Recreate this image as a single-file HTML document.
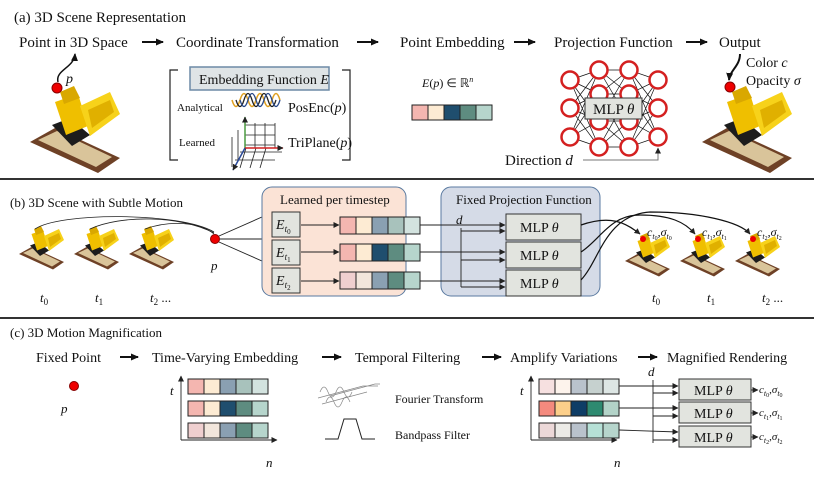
<!DOCTYPE html>
<html><head><meta charset="utf-8"><style>html,body{margin:0;padding:0;background:#fff}svg{display:block}text{font-family:"Liberation Serif",serif;fill:#111}</style></head><body>
<svg width="814" height="477" viewBox="0 0 814 477" xmlns="http://www.w3.org/2000/svg">
<defs>
<marker id="ah" markerWidth="8" markerHeight="8" refX="7" refY="4" orient="auto" markerUnits="userSpaceOnUse"><path d="M0,0.5 L8,4 L0,7.5 z" fill="#111"/></marker>
<marker id="as" markerWidth="6" markerHeight="6" refX="5.5" refY="3" orient="auto" markerUnits="userSpaceOnUse"><path d="M0,0 L6,3 L0,6 z" fill="#222"/></marker>
<g id="dz">
<polygon points="0,62 25,48 90,78 68,93" fill="#6e4126"/>
<polygon points="8,60 27,51 82,77 66,87" fill="#d9c49a"/>
<polygon points="22,45 40,38 60,55 42,66" fill="#1c1c1c"/>
<polygon points="25,22 48,14 58,46 36,55" fill="#efbf00"/>
<polygon points="30,12 44,6 50,18 34,24" fill="#d9a800"/>
<polygon points="50,26 80,12 90,34 60,56" fill="#f7d21a"/>
<polygon points="58,30 80,20 84,32 62,48" fill="#e0b000"/>
</g>
</defs>

<!-- (a) -->
<text x="14" y="22" font-size="15">(a) 3D Scene Representation</text>
<g font-size="15">
<text x="19" y="47">Point in 3D Space</text>
<text x="176" y="47">Coordinate Transformation</text>
<text x="400" y="47">Point Embedding</text>
<text x="554" y="47">Projection Function</text>
<text x="719" y="47">Output</text>
</g>
<g stroke="#111" stroke-width="2" marker-end="url(#ah)">
<line x1="142" y1="42" x2="163" y2="42"/><line x1="357" y1="42" x2="378" y2="42"/><line x1="514" y1="42" x2="535" y2="42"/><line x1="686" y1="42" x2="707" y2="42"/>
</g>
<use href="#dz" transform="translate(30,80)"/>
<circle cx="57" cy="88" r="5" fill="#e00" stroke="#800"/>
<path d="M58,82 C55,70 74,68 75,54" fill="none" stroke="#111" stroke-width="1.5" marker-end="url(#ah)"/>
<text x="66" y="83" font-size="14" font-style="italic">p</text>

<rect x="190" y="67" width="139" height="23" fill="#dfe4e6" stroke="#6d8aa6" stroke-width="1.5"/>
<text x="199" y="84" font-size="14">Embedding Function <tspan font-style="italic">E</tspan></text>
<path d="M178,70 H170 V160 H178" fill="none" stroke="#222" stroke-width="1.2"/>
<path d="M342,70 H350 V160 H342" fill="none" stroke="#222" stroke-width="1.2"/>
<text x="177" y="111" font-size="11">Analytical</text>
<text x="179" y="146" font-size="11">Learned</text>
<path d="M232,100 q4,13 8,0 t8,0 t8,0 t8,0 t8,0 t8,0" fill="none" stroke="#e0a020" stroke-width="1.5"/>
<path d="M236,100 q4,13 8,0 t8,0 t8,0 t8,0 t8,0" fill="none" stroke="#222" stroke-width="1.3"/>
<path d="M240,100 q4,13 8,0 t8,0 t8,0 t8,0 t8,0" fill="none" stroke="#2a4a8a" stroke-width="1.3"/>
<text x="288" y="112" font-size="14">PosEnc(<tspan font-style="italic">p</tspan>)</text>
<g stroke="#222" stroke-width="0.8" fill="none">
<path d="M245,125 H275 M245,135 H275 M245,145 H275 M255,123 V148 M265,123 V148 M275,123 V148"/>
<path d="M238,130 V160 M232,137 V167 M235,160 L275,160 M240,152 L282,152 M246,148 L240,168 M256,148 L250,168 M266,148 L260,168"/>
</g>
<line x1="245" y1="148" x2="245" y2="117" stroke="#4a9a40" stroke-width="1.5" marker-end="url(#as)"/>
<line x1="245" y1="148" x2="283" y2="148" stroke="#d02020" stroke-width="1.5" marker-end="url(#as)"/>
<line x1="245" y1="148" x2="233" y2="170" stroke="#2a4a9a" stroke-width="1.5" marker-end="url(#as)"/>
<text x="288" y="147" font-size="14">TriPlane(<tspan font-style="italic">p</tspan>)</text>

<text x="422" y="87" font-size="12"><tspan font-style="italic">E</tspan>(<tspan font-style="italic">p</tspan>) ∈ ℝ<tspan font-size="8" dy="-5" font-style="italic">n</tspan></text>
<g stroke="#222" stroke-width="1">
<rect x="412" y="105" width="16" height="15" fill="#f4b6b0"/><rect x="428" y="105" width="16" height="15" fill="#fdebd3"/><rect x="444" y="105" width="16" height="15" fill="#1f4e6e"/><rect x="460" y="105" width="16" height="15" fill="#5e8c80"/><rect x="476" y="105" width="16" height="15" fill="#b6d5cc"/>
</g>
<!-- MLP -->
<g stroke="#111" stroke-width="0.7">
<path d="M570,80 L599,70 M570,80 L599,94 M570,80 L599,121 M570,80 L599,147 M570,108 L599,70 M570,108 L599,94 M570,108 L599,121 M570,108 L599,147 M570,137 L599,70 M570,137 L599,94 M570,137 L599,121 M570,137 L599,147"/>
<path d="M599,70 L629,70 M599,70 L629,94 M599,70 L629,121 M599,94 L629,70 M599,94 L629,94 M599,94 L629,147 M599,121 L629,70 M599,121 L629,121 M599,121 L629,147 M599,147 L629,94 M599,147 L629,147 M599,147 L629,121"/>
<path d="M658,80 L629,70 M658,80 L629,94 M658,80 L629,121 M658,80 L629,147 M658,108 L629,70 M658,108 L629,94 M658,108 L629,121 M658,108 L629,147 M658,137 L629,70 M658,137 L629,94 M658,137 L629,121 M658,137 L629,147"/>
</g>
<g fill="#fff" stroke="#d42020" stroke-width="2.5">
<circle cx="570" cy="80" r="8.5"/><circle cx="570" cy="108" r="8.5"/><circle cx="570" cy="137" r="8.5"/>
<circle cx="599" cy="70" r="8.5"/><circle cx="599" cy="94" r="8.5"/><circle cx="599" cy="121" r="8.5"/><circle cx="599" cy="147" r="8.5"/>
<circle cx="629" cy="70" r="8.5"/><circle cx="629" cy="94" r="8.5"/><circle cx="629" cy="121" r="8.5"/><circle cx="629" cy="147" r="8.5"/>
<circle cx="658" cy="80" r="8.5"/><circle cx="658" cy="108" r="8.5"/><circle cx="658" cy="137" r="8.5"/>
</g>
<rect x="585" y="98" width="57" height="21" fill="#e2e4df" stroke="#333"/>
<text x="593" y="114" font-size="15">MLP <tspan font-style="italic">θ</tspan></text>
<text x="505" y="165" font-size="15">Direction <tspan font-style="italic">d</tspan></text>
<path d="M583,160 H658 V148" fill="none" stroke="#777" stroke-width="1" marker-end="url(#as)"/>
<use href="#dz" transform="translate(702,80)"/>
<circle cx="730" cy="87" r="5" fill="#e00" stroke="#800"/>
<path d="M740,54 C740,66 730,70 729,80" fill="none" stroke="#111" stroke-width="2" marker-end="url(#ah)"/>
<text x="746" y="67" font-size="14">Color <tspan font-style="italic">c</tspan></text>
<text x="746" y="85" font-size="14">Opacity <tspan font-style="italic">σ</tspan></text>

<line x1="0" y1="179" x2="814" y2="179" stroke="#333" stroke-width="2"/>

<!-- (b) -->
<text x="10" y="207" font-size="13">(b) 3D Scene with Subtle Motion</text>
<use href="#dz" transform="translate(19,223) scale(0.5)"/>
<use href="#dz" transform="translate(74,223) scale(0.5)"/>
<use href="#dz" transform="translate(129,223) scale(0.5)"/>
<g font-size="13" font-style="italic">
<text x="40" y="302">t<tspan font-size="9" dy="3" font-style="normal">0</tspan></text>
<text x="95" y="302">t<tspan font-size="9" dy="3" font-style="normal">1</tspan></text>
<text x="150" y="302">t<tspan font-size="9" dy="3" font-style="normal">2</tspan><tspan dy="-3" font-style="normal"> ...</tspan></text>
</g>
<g fill="none" stroke="#222" stroke-width="0.8">
<path d="M35,229 C60,212 180,212 214,232"/><path d="M90,229 C120,215 180,215 214,233"/><path d="M145,229 C170,220 200,222 214,234"/>
</g>
<circle cx="215" cy="239" r="4.5" fill="#e00" stroke="#800"/>
<text x="211" y="270" font-size="13" font-style="italic">p</text>
<g stroke="#222" stroke-width="0.9" marker-end="url(#as)">
<line x1="219" y1="236" x2="271" y2="213"/><line x1="220" y1="239" x2="271" y2="239"/><line x1="219" y1="242" x2="271" y2="265"/>
</g>
<rect x="262" y="187" width="144" height="109" rx="10" fill="#fbe3d6" stroke="#5a7aa0" stroke-width="1"/>
<rect x="441" y="187" width="159" height="109" rx="10" fill="#d5dbe7" stroke="#5a7aa0" stroke-width="1"/>
<text x="280" y="204" font-size="13">Learned per timestep</text>
<text x="456" y="204" font-size="13">Fixed Projection Function</text>
<g fill="#e2e4df" stroke="#333"><rect x="272" y="212" width="28" height="25"/><rect x="272" y="240" width="28" height="25"/><rect x="272" y="268" width="28" height="25"/></g>
<g font-size="14" font-style="italic">
<text x="276" y="229">E<tspan font-size="9" dy="3">t</tspan><tspan font-size="7" dy="2" font-style="normal">0</tspan></text>
<text x="276" y="257">E<tspan font-size="9" dy="3">t</tspan><tspan font-size="7" dy="2" font-style="normal">1</tspan></text>
<text x="276" y="285">E<tspan font-size="9" dy="3">t</tspan><tspan font-size="7" dy="2" font-style="normal">2</tspan></text>
</g>
<g stroke="#222" stroke-width="0.9" marker-end="url(#as)"><line x1="301" y1="225" x2="339" y2="225"/><line x1="301" y1="252" x2="339" y2="252"/><line x1="301" y1="281" x2="339" y2="281"/></g>
<g stroke="#222" stroke-width="1">
<rect x="340" y="217" width="16" height="17" fill="#f4b6b0"/><rect x="356" y="217" width="16" height="17" fill="#fdebd3"/><rect x="372" y="217" width="16" height="17" fill="#8aa0b2"/><rect x="388" y="217" width="16" height="17" fill="#a8c2bc"/><rect x="404" y="217" width="16" height="17" fill="#d3e3df"/>
<rect x="340" y="244" width="16" height="17" fill="#f4b6b0"/><rect x="356" y="244" width="16" height="17" fill="#fdebd3"/><rect x="372" y="244" width="16" height="17" fill="#1f4e6e"/><rect x="388" y="244" width="16" height="17" fill="#5e8c80"/><rect x="404" y="244" width="16" height="17" fill="#b6d5cc"/>
<rect x="340" y="272" width="16" height="17" fill="#efcfcf"/><rect x="356" y="272" width="16" height="17" fill="#f2e6dc"/><rect x="372" y="272" width="16" height="17" fill="#8aa0b2"/><rect x="388" y="272" width="16" height="17" fill="#5e8c80"/><rect x="404" y="272" width="16" height="17" fill="#b6d5cc"/>
</g>
<text x="456" y="224" font-size="13" font-style="italic">d</text>
<g stroke="#222" stroke-width="0.9" fill="none">
<line x1="461" y1="228" x2="461" y2="287"/>
</g>
<g stroke="#222" stroke-width="0.9" marker-end="url(#as)">
<line x1="420" y1="225" x2="505" y2="225"/><line x1="461" y1="231" x2="505" y2="231"/>
<line x1="420" y1="252" x2="505" y2="252"/><line x1="461" y1="260" x2="505" y2="260"/>
<line x1="420" y1="281" x2="505" y2="281"/><line x1="461" y1="287" x2="505" y2="287"/>
</g>
<g fill="#e2e4df" stroke="#333"><rect x="506" y="214" width="75" height="26"/><rect x="506" y="242" width="75" height="26"/><rect x="506" y="270" width="75" height="26"/></g>
<g font-size="14"><text x="520" y="232">MLP <tspan font-style="italic">θ</tspan></text><text x="520" y="260">MLP <tspan font-style="italic">θ</tspan></text><text x="520" y="288">MLP <tspan font-style="italic">θ</tspan></text></g>
<use href="#dz" transform="translate(625,230) scale(0.5)"/>
<use href="#dz" transform="translate(680,230) scale(0.5)"/>
<use href="#dz" transform="translate(735,230) scale(0.5)"/>
<g fill="#e00"><circle cx="643" cy="239" r="3"/><circle cx="698" cy="239" r="3"/><circle cx="753" cy="239" r="3"/></g>
<g fill="none" stroke="#111" stroke-width="1.2">
<path d="M581,225 C610,215 625,222 640,234" marker-end="url(#as)"/>
<path d="M581,252 C600,240 610,215 640,215 C670,215 685,222 695,234" marker-end="url(#as)"/>
<path d="M581,280 C600,260 605,215 650,212 C700,212 740,222 750,234" marker-end="url(#as)"/>
</g>
<g font-size="12" font-style="italic">
<text x="647" y="236">c<tspan font-size="8" dy="3">t</tspan><tspan font-size="6" dy="1" font-style="normal">0</tspan><tspan dy="-4" font-style="normal">,</tspan>σ<tspan font-size="8" dy="3">t</tspan><tspan font-size="6" dy="1" font-style="normal">0</tspan></text>
<text x="702" y="236">c<tspan font-size="8" dy="3">t</tspan><tspan font-size="6" dy="1" font-style="normal">1</tspan><tspan dy="-4" font-style="normal">,</tspan>σ<tspan font-size="8" dy="3">t</tspan><tspan font-size="6" dy="1" font-style="normal">1</tspan></text>
<text x="757" y="236">c<tspan font-size="8" dy="3">t</tspan><tspan font-size="6" dy="1" font-style="normal">2</tspan><tspan dy="-4" font-style="normal">,</tspan>σ<tspan font-size="8" dy="3">t</tspan><tspan font-size="6" dy="1" font-style="normal">2</tspan></text>
</g>
<g font-size="13" font-style="italic">
<text x="652" y="302">t<tspan font-size="9" dy="3" font-style="normal">0</tspan></text>
<text x="707" y="302">t<tspan font-size="9" dy="3" font-style="normal">1</tspan></text>
<text x="762" y="302">t<tspan font-size="9" dy="3" font-style="normal">2</tspan><tspan dy="-3" font-style="normal"> ...</tspan></text>
</g>

<line x1="0" y1="318" x2="814" y2="318" stroke="#333" stroke-width="2"/>

<!-- (c) -->
<text x="10" y="337" font-size="13">(c) 3D Motion Magnification</text>
<g font-size="14">
<text x="36" y="362">Fixed Point</text>
<text x="152" y="362">Time-Varying Embedding</text>
<text x="355" y="362">Temporal Filtering</text>
<text x="510" y="362">Amplify Variations</text>
<text x="667" y="362">Magnified Rendering</text>
</g>
<g stroke="#111" stroke-width="2" marker-end="url(#ah)">
<line x1="120" y1="357" x2="138" y2="357"/><line x1="322" y1="357" x2="341" y2="357"/><line x1="482" y1="357" x2="501" y2="357"/><line x1="638" y1="357" x2="657" y2="357"/>
</g>
<circle cx="74" cy="386" r="4.5" fill="#e00" stroke="#800"/>
<text x="61" y="413" font-size="13" font-style="italic">p</text>
<g stroke="#222" stroke-width="0.9" fill="none" marker-end="url(#as)">
<path d="M181,440 V376"/><path d="M181,440 H277"/>
<path d="M531,440 V376"/><path d="M531,440 H617"/>
</g>
<g font-size="13" font-style="italic"><text x="170" y="395">t</text><text x="266" y="467">n</text><text x="520" y="395">t</text><text x="614" y="467">n</text></g>
<g stroke="#222" stroke-width="1">
<rect x="188" y="379" width="16" height="15" fill="#f4b6b0"/><rect x="204" y="379" width="16" height="15" fill="#fdebd3"/><rect x="220" y="379" width="16" height="15" fill="#8aa0b2"/><rect x="236" y="379" width="16" height="15" fill="#a8c2bc"/><rect x="252" y="379" width="16" height="15" fill="#d3e3df"/>
<rect x="188" y="401" width="16" height="15" fill="#f4b6b0"/><rect x="204" y="401" width="16" height="15" fill="#fdebd3"/><rect x="220" y="401" width="16" height="15" fill="#1f4e6e"/><rect x="236" y="401" width="16" height="15" fill="#5e8c80"/><rect x="252" y="401" width="16" height="15" fill="#b6d5cc"/>
<rect x="188" y="423" width="16" height="15" fill="#efcfcf"/><rect x="204" y="423" width="16" height="15" fill="#f2e6dc"/><rect x="220" y="423" width="16" height="15" fill="#8aa0b2"/><rect x="236" y="423" width="16" height="15" fill="#5e8c80"/><rect x="252" y="423" width="16" height="15" fill="#b6d5cc"/>
<rect x="539" y="379" width="16" height="15" fill="#f6e0e0"/><rect x="555" y="379" width="16" height="15" fill="#fdf3ec"/><rect x="571" y="379" width="16" height="15" fill="#b9c2cc"/><rect x="587" y="379" width="16" height="15" fill="#c6d1cf"/><rect x="603" y="379" width="16" height="15" fill="#dde6e4"/>
<rect x="539" y="401" width="16" height="15" fill="#f48a7e"/><rect x="555" y="401" width="16" height="15" fill="#fccf8a"/><rect x="571" y="401" width="16" height="15" fill="#0e3d66"/><rect x="587" y="401" width="16" height="15" fill="#2e8a70"/><rect x="603" y="401" width="16" height="15" fill="#b3d3c8"/>
<rect x="539" y="423" width="16" height="15" fill="#ecd8d8"/><rect x="555" y="423" width="16" height="15" fill="#ecebe7"/><rect x="571" y="423" width="16" height="15" fill="#b9c2cc"/><rect x="587" y="423" width="16" height="15" fill="#b6e0d6"/><rect x="603" y="423" width="16" height="15" fill="#b6d5cc"/>
</g>
<g fill="none" stroke="#888" stroke-width="0.7">
<path d="M320,392 q4,-10 8,0 t8,0 t8,0 t8,0 M318,398 l45,-12 l15,0 M322,404 l45,-12 M326,402 q4,-10 8,0 t8,0 t8,0 M330,396 l45,-12 l5,0"/>
</g>
<path d="M325,439 H338 L344,419 H356 L362,439 H375" fill="none" stroke="#222" stroke-width="1"/>
<text x="395" y="403" font-size="12">Fourier Transform</text>
<text x="395" y="439" font-size="12">Bandpass Filter</text>
<text x="648" y="376" font-size="13" font-style="italic">d</text>
<line x1="653" y1="380" x2="653" y2="443" stroke="#222" stroke-width="0.9"/>
<g stroke="#222" stroke-width="0.9" marker-end="url(#as)">
<line x1="619" y1="386" x2="678" y2="386"/><line x1="653" y1="393" x2="678" y2="393"/>
<line x1="619" y1="408" x2="678" y2="408"/><line x1="653" y1="416" x2="678" y2="416"/>
<line x1="619" y1="430" x2="678" y2="432"/><line x1="653" y1="440" x2="678" y2="440"/>
</g>
<g fill="#e2e4df" stroke="#333"><rect x="679" y="379" width="72" height="21"/><rect x="679" y="402" width="72" height="21"/><rect x="679" y="426" width="72" height="21"/></g>
<g font-size="14"><text x="694" y="395">MLP <tspan font-style="italic">θ</tspan></text><text x="694" y="418">MLP <tspan font-style="italic">θ</tspan></text><text x="694" y="442">MLP <tspan font-style="italic">θ</tspan></text></g>
<g stroke="#222" stroke-width="0.9" marker-end="url(#as)"><line x1="751" y1="390" x2="758" y2="390"/><line x1="751" y1="413" x2="758" y2="413"/><line x1="751" y1="437" x2="758" y2="437"/></g>
<g font-size="11" font-style="italic">
<text x="759" y="393">c<tspan font-size="8" dy="3">t</tspan><tspan font-size="6" dy="1" font-style="normal">0</tspan><tspan dy="-4" font-style="normal">,</tspan>σ<tspan font-size="8" dy="3">t</tspan><tspan font-size="6" dy="1" font-style="normal">0</tspan></text>
<text x="759" y="416">c<tspan font-size="8" dy="3">t</tspan><tspan font-size="6" dy="1" font-style="normal">1</tspan><tspan dy="-4" font-style="normal">,</tspan>σ<tspan font-size="8" dy="3">t</tspan><tspan font-size="6" dy="1" font-style="normal">1</tspan></text>
<text x="759" y="440">c<tspan font-size="8" dy="3">t</tspan><tspan font-size="6" dy="1" font-style="normal">2</tspan><tspan dy="-4" font-style="normal">,</tspan>σ<tspan font-size="8" dy="3">t</tspan><tspan font-size="6" dy="1" font-style="normal">2</tspan></text>
</g>
</svg>
</body></html>
